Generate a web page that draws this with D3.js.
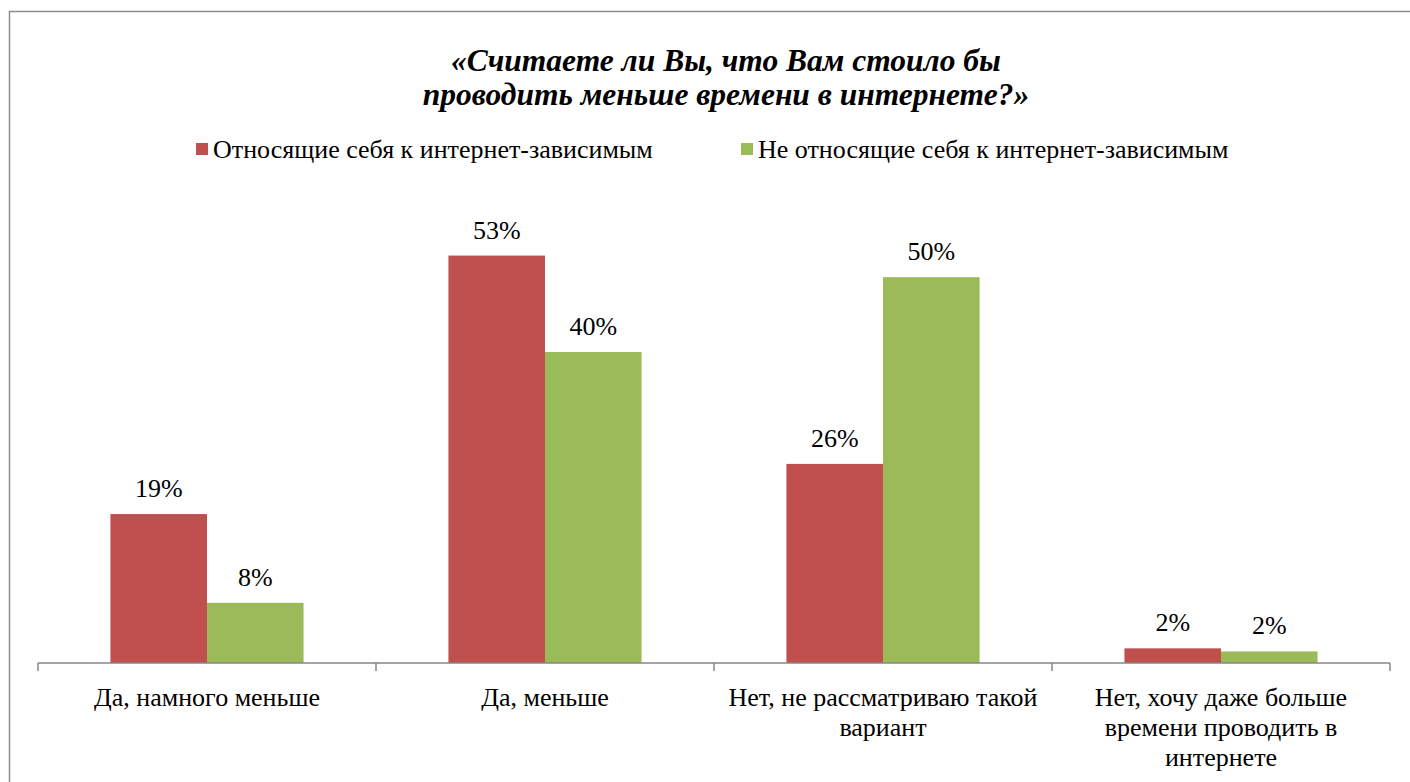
<!DOCTYPE html>
<html>
<head>
<meta charset="utf-8">
<script src="https://cdn.jsdelivr.net/npm/d3@7"></script>
<style>
  html, body { margin: 0; padding: 0; background: #fff; }
  svg text { font-family: 'Liberation Serif', 'Times New Roman', serif; }
</style>
</head>
<body>
<div id="chart"></div>
<script>
// data
const categories = [
  'Да, намного меньше',
  'Да, меньше',
  'Нет, не рассматриваю такой\nвариант',
  'Нет, хочу даже больше\nвремени проводить в\nинтернете'
];
const seriesNames = [
  'Относящие себя к интернет-зависимым',
  'Не относящие себя к интернет-зависимым'
];
const addicted = [19.3, 52.8, 25.8, 1.9];
const notAddicted = [7.8, 40.3, 50.0, 1.5];
const colors = ['#C0504D', '#9BBB59'];
const titleLines = [
  '«Считаете ли Вы, что Вам стоило бы',
  'проводить меньше времени в интернете?»'
];

const width = 1410, height = 782;
const margins = { left: 38, right: 20, top: 200, bottom: 119 };
const baseline = height - margins.bottom; // 663
const labelSize = '26px';

const $svg = d3.select('#chart').append('svg')
  .attr('width', width)
  .attr('height', height);

// chart frame (cut off at right and bottom, like the screenshot)
$svg.append('rect')
  .attr('x', 9.5).attr('y', 11.5)
  .attr('width', width + 20).attr('height', height + 20)
  .attr('fill', 'none')
  .attr('stroke', '#8c8c8c')
  .attr('stroke-width', 1.5);

// title
$svg.append('text')
  .attr('x', 726).attr('y', 71)
  .attr('text-anchor', 'middle')
  .style('font-size', '31.5px')
  .style('font-weight', 'bold')
  .style('font-style', 'italic')
  .selectAll('tspan')
  .data(titleLines)
  .enter()
  .append('tspan')
  .attr('x', 726)
  .attr('dy', (d, i) => i === 0 ? 0 : 34)
  .text(d => d);

// legend
const legendX = [196, 741];
const $legend = $svg.selectAll('g.legend')
  .data(seriesNames)
  .enter()
  .append('g')
  .attr('class', 'legend')
  .attr('transform', (d, i) => `translate(${legendX[i]},0)`);

$legend.append('rect')
  .attr('x', 0).attr('y', 143)
  .attr('width', 12).attr('height', 12)
  .attr('fill', (d, i) => colors[i]);

$legend.append('text')
  .attr('x', 17).attr('y', 158)
  .style('font-size', labelSize)
  .attr('fill', '#000')
  .text(d => d);

// scales
const x0 = d3.scaleBand()
  .domain(categories)
  .range([margins.left, width - margins.right])
  .paddingInner(0)
  .paddingOuter(0);

// gap width 150% as in excel
const groupInner = x0.bandwidth() * 2 / 3.5;
const x1 = d3.scaleBand()
  .domain([0, 1])
  .range([(x0.bandwidth() - groupInner) / 2, (x0.bandwidth() + groupInner) / 2]);

const y = d3.scaleLinear()
  .domain([0, 60])
  .range([baseline, margins.top]);

const rows = categories.map((c, i) => ({ cat: c, values: [addicted[i], notAddicted[i]] }));

const $groups = $svg.selectAll('g.cat')
  .data(rows)
  .enter()
  .append('g')
  .attr('class', 'cat')
  .attr('transform', d => `translate(${x0(d.cat)},0)`);

$groups.selectAll('rect')
  .data(d => d.values)
  .enter()
  .append('rect')
  .attr('x', (d, i) => x1(i))
  .attr('y', d => y(d))
  .attr('width', x1.bandwidth())
  .attr('height', d => baseline - y(d))
  .attr('fill', (d, i) => colors[i]);

const fmt = d3.format('.0f');
$groups.selectAll('text.val')
  .data(d => d.values)
  .enter()
  .append('text')
  .attr('class', 'val')
  .attr('x', (d, i) => x1(i) + x1.bandwidth() / 2)
  .attr('y', d => y(d) - 17)
  .attr('text-anchor', 'middle')
  .style('font-size', labelSize)
  .text(d => fmt(d) + '%');

// x axis with ticks on category boundaries
const $axis = $svg.append('g');
$axis.append('line')
  .attr('x1', margins.left).attr('x2', width - margins.right)
  .attr('y1', baseline).attr('y2', baseline)
  .attr('stroke', '#868686')
  .attr('stroke-width', 1.5);

const bounds = categories.map(c => x0(c)).concat([width - margins.right]);
$axis.selectAll('line.tick')
  .data(bounds)
  .enter()
  .append('line')
  .attr('class', 'tick')
  .attr('x1', d => d).attr('x2', d => d)
  .attr('y1', baseline).attr('y2', baseline + 8)
  .attr('stroke', '#868686')
  .attr('stroke-width', 1.5);

$axis.selectAll('text.cat')
  .data(categories)
  .enter()
  .append('text')
  .attr('class', 'cat')
  .attr('text-anchor', 'middle')
  .style('font-size', labelSize)
  .each(function(d) {
    const cx = x0(d) + x0.bandwidth() / 2;
    d3.select(this).selectAll('tspan')
      .data(d.split('\n'))
      .enter()
      .append('tspan')
      .attr('x', cx)
      .attr('y', (t, i) => 706 + i * 30)
      .text(t => t);
  });
</script>
</body>
</html>
